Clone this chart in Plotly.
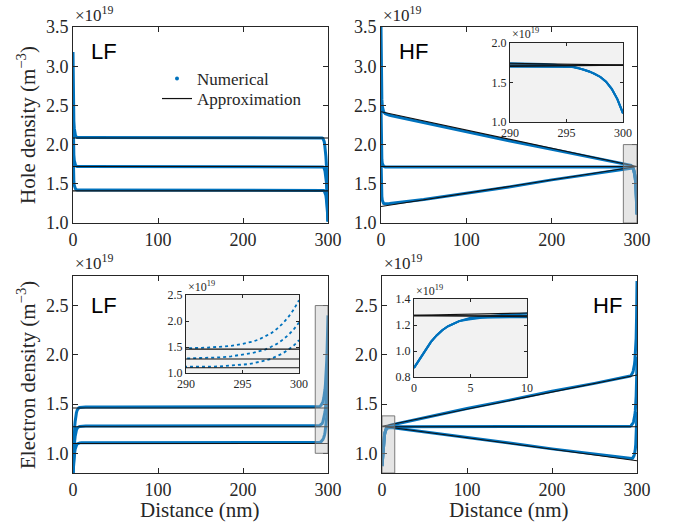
import plotly.graph_objects as go

# ---------------- data (units of 1e19 m^-3, distance in nm) ----------------
x_h = [0, 0.25, 0.5, 1, 1.5, 2, 3, 4, 5, 10, 50, 100, 150, 200, 250, 280, 290,
       292, 293, 294, 295, 295.5, 296, 296.5, 297, 297.5, 298, 298.5, 299, 299.5, 300]

lf_hole_hi = [3.18, 2.75, 2.50, 2.30, 2.21, 2.16, 2.11, 2.10, 2.09, 2.09, 2.09, 2.09, 2.09, 2.09, 2.09, 2.09, 2.09,
              2.09, 2.085, 2.08, 2.06, 2.04, 2.01, 1.97, 1.92, 1.85, 1.76, 1.63, 1.47, 1.27, 1.02]
lf_hole_mid = [2.50, 2.20, 2.01, 1.87, 1.80, 1.76, 1.735, 1.725, 1.72, 1.72, 1.72, 1.72, 1.72, 1.72, 1.72, 1.72, 1.72,
               1.72, 1.72, 1.715, 1.71, 1.70, 1.68, 1.66, 1.63, 1.59, 1.53, 1.45, 1.35, 1.21, 1.02]
lf_hole_lo = [2.02, 1.80, 1.65, 1.53, 1.48, 1.455, 1.435, 1.425, 1.42, 1.42, 1.42, 1.42, 1.42, 1.42, 1.42, 1.42, 1.42,
              1.42, 1.42, 1.42, 1.415, 1.41, 1.40, 1.39, 1.37, 1.35, 1.31, 1.26, 1.20, 1.12, 1.02]

hf_hole_hi = [3.50, 3.05, 2.80, 2.58, 2.49, 2.45, 2.42, 2.405, 2.395, 2.375, 2.28, 2.17, 2.05, 1.94, 1.83, 1.765, 1.745,
              1.74, 1.735, 1.725, 1.71, 1.70, 1.685, 1.665, 1.64, 1.61, 1.57, 1.51, 1.42, 1.29, 1.11]
hf_hole_mid = [2.50, 2.15, 1.95, 1.81, 1.76, 1.74, 1.725, 1.72, 1.715, 1.715, 1.715, 1.715, 1.715, 1.715, 1.715, 1.715, 1.715,
               1.715, 1.715, 1.715, 1.705, 1.70, 1.685, 1.665, 1.64, 1.61, 1.57, 1.51, 1.42, 1.29, 1.11]
hf_hole_lo = [1.83, 1.60, 1.46, 1.34, 1.29, 1.265, 1.25, 1.245, 1.245, 1.25, 1.30, 1.38, 1.46, 1.55, 1.63, 1.68, 1.70,
              1.70, 1.70, 1.70, 1.70, 1.695, 1.68, 1.665, 1.64, 1.61, 1.57, 1.51, 1.42, 1.29, 1.11]

x_e = [0, 0.5, 1, 1.5, 2, 2.5, 3, 3.5, 4, 5, 6, 7, 8, 10, 15, 50, 100, 150, 200, 250, 280, 290,
       292, 293, 294, 295, 295.5, 296, 296.5, 297, 297.5, 298, 298.5, 299, 299.5, 300]

lf_elec_hi = [0.80, 0.97, 1.10, 1.20, 1.27, 1.32, 1.36, 1.39, 1.41, 1.44, 1.455, 1.462, 1.466, 1.469, 1.47, 1.47, 1.47,
              1.47, 1.47, 1.47, 1.47, 1.475,
              1.49, 1.50, 1.52, 1.56, 1.58, 1.61, 1.65, 1.70, 1.76, 1.84, 1.94, 2.06, 2.21, 2.40]
lf_elec_mid = [0.80, 0.92, 1.01, 1.08, 1.13, 1.17, 1.20, 1.22, 1.235, 1.255, 1.265, 1.27, 1.273, 1.276, 1.277, 1.277,
               1.277, 1.277, 1.277, 1.277, 1.277, 1.28,
               1.295, 1.30, 1.32, 1.35, 1.365, 1.39, 1.42, 1.45, 1.50, 1.555, 1.63, 1.72, 1.83, 1.97]
lf_elec_lo = [0.80, 0.88, 0.94, 0.98, 1.01, 1.04, 1.06, 1.07, 1.08, 1.095, 1.10, 1.104, 1.106, 1.108, 1.108, 1.108,
              1.108, 1.108, 1.108, 1.108, 1.108, 1.11,
              1.12, 1.127, 1.14, 1.16, 1.17, 1.19, 1.21, 1.24, 1.27, 1.32, 1.37, 1.44, 1.52, 1.63]

hf_elec_hi = [0.87, 0.94, 1.01, 1.07, 1.12, 1.16, 1.19, 1.21, 1.23, 1.255, 1.265, 1.272, 1.278, 1.285, 1.295, 1.36,
              1.455, 1.54, 1.63, 1.71, 1.76, 1.78,
              1.785, 1.79, 1.80, 1.82, 1.835, 1.85, 1.87, 1.90, 1.94, 1.99, 2.06, 2.17, 2.38, 2.75]
hf_elec_mid = [0.87, 0.94, 1.01, 1.07, 1.12, 1.16, 1.19, 1.21, 1.23, 1.25, 1.26, 1.265, 1.268, 1.27, 1.27, 1.27,
               1.27, 1.27, 1.27, 1.27, 1.27, 1.27,
               1.275, 1.28, 1.29, 1.30, 1.31, 1.325, 1.34, 1.36, 1.39, 1.43, 1.49, 1.58, 1.74, 1.98]
hf_elec_lo = [0.87, 0.94, 1.01, 1.07, 1.12, 1.16, 1.19, 1.21, 1.23, 1.245, 1.255, 1.258, 1.26, 1.262, 1.258, 1.22,
              1.165, 1.105, 1.045, 0.99, 0.96, 0.95,
              0.948, 0.947, 0.948, 0.952, 0.957, 0.965, 0.975, 0.99, 1.01, 1.04, 1.09, 1.16, 1.26, 1.42]

# approximations (end points at x = 0 and x = 300)
x_approx = [0, 300]
lf_hole_approx = [[2.085, 2.085], [1.72, 1.72], [1.41, 1.41]]
hf_hole_approx = [[2.42, 1.72], [1.72, 1.72], [1.21, 1.72]]
lf_elec_approx = [[1.46, 1.46], [1.27, 1.27], [1.10, 1.10]]
hf_elec_approx = [[1.275, 1.795], [1.27, 1.27], [1.275, 0.925]]

x_ticks_main = [0, 100, 200, 300]
hole_yticks = [1.0, 1.5, 2.0, 2.5, 3.0, 3.5]
elec_yticks = [1.0, 1.5, 2.0, 2.5]

# ---------------- styling ----------------
BLUE = '#0072BD'
AX = '#262626'
SERIF = 'Liberation Serif'
W, H = 673, 527

fig = go.Figure()


def px_x(p):
    return p / W


def px_y(p):
    return 1 - p / H


def add_curves(xa, ya, x, ys, approx, lw, dash='solid'):
    for y in ys:
        fig.add_trace(go.Scatter(x=x, y=y, mode='lines', xaxis=xa, yaxis=ya,
                                 line=dict(color=BLUE, width=lw, dash=dash),
                                 showlegend=False, hoverinfo='skip'))
    for y in approx:
        fig.add_trace(go.Scatter(x=x_approx, y=y, mode='lines', xaxis=xa, yaxis=ya,
                                 line=dict(color='#111111', width=1.1),
                                 showlegend=False, hoverinfo='skip'))


# legend entries (two single-item legends so their spacing can match)
fig.add_trace(go.Scatter(x=[None], y=[None], mode='markers', name='Numerical',
                         marker=dict(color=BLUE, size=4), xaxis='x', yaxis='y', legend='legend'))
fig.add_trace(go.Scatter(x=[None], y=[None], mode='lines', name='Approximation',
                         line=dict(color='#111111', width=1.2), xaxis='x', yaxis='y', legend='legend2'))

# main panels
add_curves('x', 'y', x_h, [lf_hole_hi, lf_hole_mid, lf_hole_lo], lf_hole_approx, 3)
add_curves('x2', 'y2', x_h, [hf_hole_hi, hf_hole_mid, hf_hole_lo], hf_hole_approx, 3)
add_curves('x3', 'y3', x_e, [lf_elec_hi, lf_elec_mid, lf_elec_lo], lf_elec_approx, 3)
add_curves('x4', 'y4', x_e, [hf_elec_hi, hf_elec_mid, hf_elec_lo], hf_elec_approx, 3)
# insets
add_curves('x5', 'y5', x_h, [hf_hole_hi, hf_hole_mid, hf_hole_lo], hf_hole_approx, 2)
add_curves('x6', 'y6', x_e, [lf_elec_hi, lf_elec_mid, lf_elec_lo], lf_elec_approx, 1.8, dash='dot')
add_curves('x7', 'y7', x_e, [hf_elec_hi, hf_elec_mid, hf_elec_lo], hf_elec_approx, 2)


def axis(domain, rng, tickvals, anchor, size=18, ticklen=5, fmt=None):
    d = dict(domain=domain, range=rng, tickvals=tickvals, anchor=anchor,
             ticks='inside', ticklen=ticklen, tickwidth=1, tickcolor=AX,
             showline=True, linecolor=AX, linewidth=1, mirror='ticks',
             showgrid=False, zeroline=False, automargin=False,
             tickfont=dict(family=SERIF, size=size, color=AX))
    if fmt:
        d['tickformat'] = fmt
    return d


# domains in pixels
L_x = [px_x(73), px_x(328)]
R_x_top = [px_x(381), px_x(637)]
R_x_bot = [px_x(382), px_x(637)]
T_y = [px_y(223), px_y(27)]
B_y = [px_y(473), px_y(276)]

legend_style = dict(xanchor='left', yanchor='middle', bgcolor='rgba(0,0,0,0)',
                    font=dict(family=SERIF, size=17, color=AX))

layout = dict(
    width=W, height=H, autosize=False,
    margin=dict(l=0, r=0, t=0, b=0, pad=0, autoexpand=False),
    paper_bgcolor='white', plot_bgcolor='rgba(0,0,0,0)',
    showlegend=True,
    legend=dict(x=px_x(157), y=px_y(79), **legend_style),
    legend2=dict(x=px_x(157), y=px_y(99), **legend_style),
    xaxis=axis(L_x, [0, 300], x_ticks_main, 'y'),
    yaxis=axis(T_y, [1.0, 3.5], hole_yticks, 'x', fmt='.1f'),
    xaxis2=axis(R_x_top, [0, 300], x_ticks_main, 'y2'),
    yaxis2=axis(T_y, [1.0, 3.5], hole_yticks, 'x2', fmt='.1f'),
    xaxis3=axis(L_x, [0, 300], x_ticks_main, 'y3'),
    yaxis3=axis(B_y, [0.8, 2.8], elec_yticks, 'x3', fmt='.1f'),
    xaxis4=axis(R_x_bot, [0, 300], x_ticks_main, 'y4'),
    yaxis4=axis(B_y, [0.8, 2.8], elec_yticks, 'x4', fmt='.1f'),
    xaxis5=axis([px_x(510), px_x(623)], [290, 300], [290, 295, 300], 'y5', size=12, ticklen=3),
    yaxis5=axis([px_y(122), px_y(43)], [1.0, 2.0], [1.0, 1.5, 2.0], 'x5', size=12, ticklen=3, fmt='.1f'),
    xaxis6=axis([px_x(186), px_x(299)], [290, 300], [290, 295, 300], 'y6', size=12, ticklen=3),
    yaxis6=axis([px_y(373), px_y(295)], [1.0, 2.5], [1.0, 1.5, 2.0, 2.5], 'x6', size=12, ticklen=3, fmt='.1f'),
    xaxis7=axis([px_x(414), px_x(527)], [0, 10], [0, 5, 10], 'y7', size=12, ticklen=3),
    yaxis7=axis([px_y(377), px_y(299)], [0.8, 1.4], [0.8, 1.0, 1.2, 1.4], 'x7', size=12, ticklen=3, fmt='.1f'),
)
fig.update_layout(**layout)

shapes = []
# inset backgrounds
for xa, ya, x0, x1, y0, y1 in [('x5', 'y5', 290, 300, 1.0, 2.0),
                               ('x6', 'y6', 290, 300, 1.0, 2.5),
                               ('x7', 'y7', 0, 10, 0.8, 1.4)]:
    shapes.append(dict(type='rect', xref=xa, yref=ya, x0=x0, x1=x1, y0=y0, y1=y1,
                       fillcolor='#f2f2f2', line=dict(width=0), layer='below'))
# zoom boxes in main panels
for xa, ya, x0, x1, y0, y1 in [('x2', 'y2', 284, 300, 1.0, 2.0),
                               ('x3', 'y3', 285, 300, 1.0, 2.5),
                               ('x4', 'y4', 0, 15, 0.8, 1.38)]:
    shapes.append(dict(type='rect', xref=xa, yref=ya, x0=x0, x1=x1, y0=y0, y1=y1,
                       fillcolor='rgba(190,190,190,0.4)',
                       line=dict(color='rgba(110,110,110,0.9)', width=1), layer='above'))
fig.update_layout(shapes=shapes)

ann = []
# exponent labels
for xp, yp, size in [(73, 14, 17), (381, 14, 17), (73, 262, 17), (382, 262, 17),
                     (510, 34, 12), (186, 286, 12), (414, 290, 12)]:
    ann.append(dict(text='×10<sup>19</sup>', xref='paper', yref='paper', x=px_x(xp), y=px_y(yp),
                    xanchor='left', yanchor='middle', showarrow=False,
                    font=dict(family=SERIF, size=size, color=AX)))
# panel labels
for txt, xp, yp, xanc in [('LF', 89, 51, 'left'), ('HF', 397, 51, 'left'),
                          ('LF', 89, 305, 'left'), ('HF', 624, 305, 'right')]:
    ann.append(dict(text=txt, xref='paper', yref='paper', x=px_x(xp), y=px_y(yp),
                    xanchor=xanc, yanchor='middle', showarrow=False,
                    font=dict(family='Liberation Sans', size=22, color='black')))
# axis titles
ann.append(dict(text='Hole density (m<sup>−3</sup>)', xref='paper', yref='paper',
                x=px_x(26), y=px_y(125), textangle=-90, showarrow=False,
                xanchor='center', yanchor='middle', font=dict(family=SERIF, size=21, color=AX)))
ann.append(dict(text='Electron density (m<sup>−3</sup>)', xref='paper', yref='paper',
                x=px_x(26), y=px_y(375), textangle=-90, showarrow=False,
                xanchor='center', yanchor='middle', font=dict(family=SERIF, size=21, color=AX)))
for xc in [200, 509]:
    ann.append(dict(text='Distance (nm)', xref='paper', yref='paper', x=px_x(xc), y=px_y(510),
                    showarrow=False, xanchor='center', yanchor='middle',
                    font=dict(family=SERIF, size=21, color=AX)))
fig.update_layout(annotations=ann)

fig.write_html('out.html', config={'responsive': False})
